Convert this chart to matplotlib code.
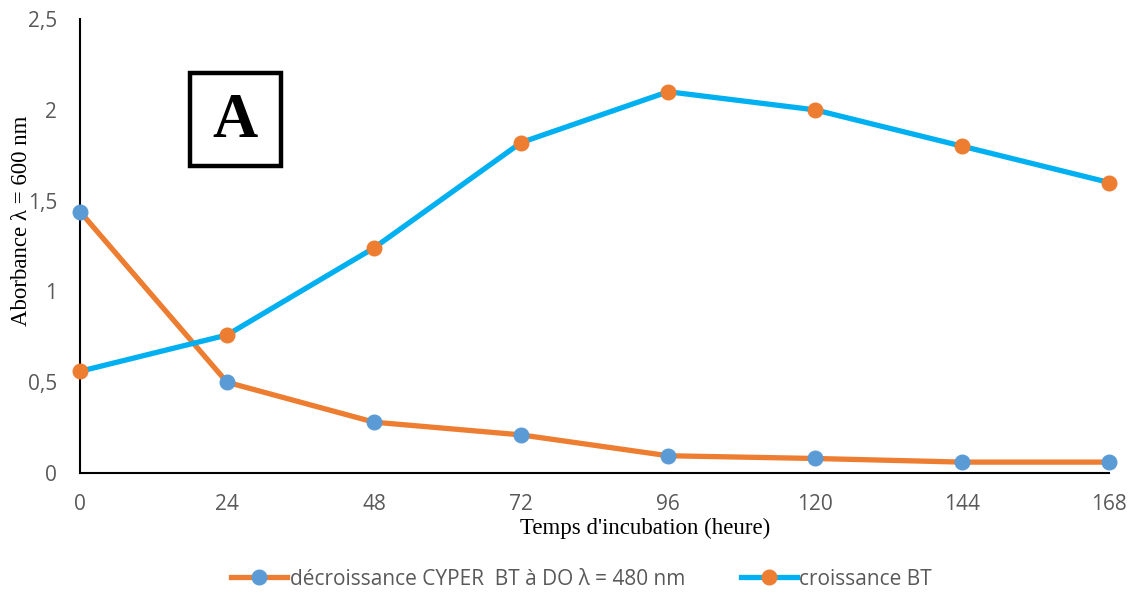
import matplotlib
matplotlib.use("Agg")
import matplotlib.pyplot as plt
from matplotlib.patches import Rectangle

# incubation time (hours)
hours = [0, 24, 48, 72, 96, 120, 144, 168]
# absorbance values
decroissance = [1.44, 0.50, 0.28, 0.21, 0.095, 0.08, 0.06, 0.06]
croissance = [0.56, 0.76, 1.24, 1.82, 2.10, 2.00, 1.80, 1.60]

orange = "#ED7D31"
cyan = "#00B0F0"
blue = "#5B9BD5"
grey = "#595959"

fig = plt.figure(figsize=(11.36, 5.97), dpi=100)
ax = fig.add_axes([0.0704, 0.2077, 0.906, 0.7603])

ax.plot(hours, decroissance, color=orange, lw=3.8, marker="o", ms=10.5,
        mfc=blue, mec=blue, label="décroissance CYPER  BT à DO λ = 480 nm",
        solid_joinstyle="round", clip_on=False, zorder=3)
ax.plot(hours, croissance, color=cyan, lw=3.8, marker="o", ms=10.5,
        mfc=orange, mec=orange, label="croissance BT",
        solid_joinstyle="round", clip_on=False, zorder=3)

ax.set_xlim(0, 168)
ax.set_ylim(0, 2.5)
ax.set_xticks(hours)
ax.set_yticks([0, 0.5, 1, 1.5, 2, 2.5])
ax.set_yticklabels(["0", "0,5", "1", "1,5", "2", "2,5"])

for s in ["top", "right"]:
    ax.spines[s].set_visible(False)
for s in ["left", "bottom"]:
    ax.spines[s].set_color("black")
    ax.spines[s].set_linewidth(1.5)

ax.tick_params(length=0, labelsize=15, labelcolor=grey)
ax.tick_params(axis="x", pad=15)
ax.tick_params(axis="y", pad=16.5)
for lab in ax.get_xticklabels() + ax.get_yticklabels():
    lab.set_family("Open Sans")

ax.set_xlabel("Temps d'incubation (heure)", family="Liberation Serif",
              fontsize=16.5)
ax.xaxis.set_label_coords(0.549, -0.099)
ax.set_ylabel("Aborbance λ = 600 nm", family="Liberation Serif",
              fontsize=16.5)
ax.yaxis.set_label_coords(-0.047, 0.555)

# boxed panel letter
ax.add_patch(Rectangle((0.107, 0.676), 0.088, 0.205, transform=ax.transAxes,
                       fill=False, lw=3.2, ec="black", clip_on=False))
ax.text(0.151, 0.774, "A", transform=ax.transAxes, ha="center", va="center",
        family="Liberation Serif", fontweight="bold", fontsize=45)

leg = fig.legend(loc="center", bbox_to_anchor=(0.512, 0.03), ncol=2,
                 frameon=False, columnspacing=2.7,
                 handlelength=2.7, handletextpad=0.1,
                 prop={"family": "Open Sans", "size": 15})
for t in leg.get_texts():
    t.set_color(grey)

fig.savefig("out.png", dpi=100)
